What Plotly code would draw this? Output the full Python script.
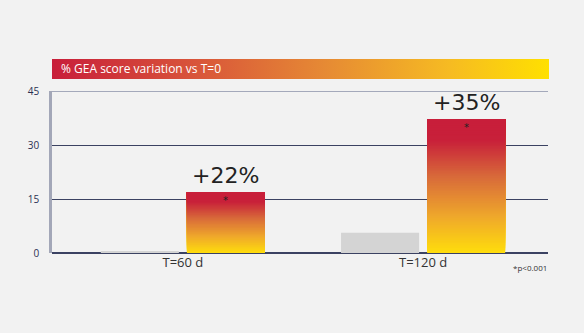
import base64
import plotly.graph_objects as go

categories = ["T=60 d", "T=120 d"]
baseline_values = [0.5, 5.6]
treated_values = [16.9, 37.2]
pct_labels = ["+22%", "+35%"]
y_ticks = [0, 15, 30, 45]
title_text = "% GEA score variation vs T=0"
footnote = "*p<0.001"

FONT = "Open Sans"
BIG_FONT = "DejaVu Sans"
BG = "#F2F2F2"
BAR_W = 0.325
GAP = 0.0167

bar_scale = [[0.0, "#FFDD0C"], [0.27, "#EFA82B"], [0.57, "#D86A3A"],
             [0.84, "#C8203A"], [1.0, "#C81E3A"]]


def hex2rgb(h):
    h = h.lstrip("#")
    return tuple(int(h[i:i + 2], 16) for i in (0, 2, 4))


def sample(scale, t):
    for (a, ca), (b, cb) in zip(scale[:-1], scale[1:]):
        if a <= t <= b:
            f = 0 if b == a else (t - a) / (b - a)
            r1, g1, b1 = hex2rgb(ca)
            r2, g2, b2 = hex2rgb(cb)
            return "rgb(%d,%d,%d)" % (round(r1 + (r2 - r1) * f), round(g1 + (g2 - g1) * f), round(b1 + (b2 - b1) * f))
    return scale[-1][1]


fig = go.Figure()

fig.add_trace(go.Bar(
    x=categories, y=baseline_values, width=BAR_W, offset=-BAR_W - GAP,
    marker=dict(color="#D4D4D4", line=dict(width=0)), hoverinfo="skip", showlegend=False))

N = 80
for i in range(N):
    frac = i / N
    bases = [v * frac for v in treated_values]
    heights = [v - b for v, b in zip(treated_values, bases)]
    fig.add_trace(go.Bar(
        x=categories, y=heights, base=bases, width=BAR_W, offset=GAP,
        marker=dict(color=sample(bar_scale, (i + 0.5) / N), line=dict(width=0)),
        hoverinfo="skip", showlegend=False))

annotations = []
center_off = GAP + BAR_W / 2
for idx, (v, lab) in enumerate(zip(treated_values, pct_labels)):
    annotations.append(dict(x=idx + center_off, y=v, xref="x", yref="y", text=lab,
                            showarrow=False, yanchor="bottom", yshift=2,
                            font=dict(family=BIG_FONT, size=22, color="#222222")))
    annotations.append(dict(x=idx + center_off, y=v, xref="x", yref="y", text="*",
                            showarrow=False, yanchor="middle", yshift=-8,
                            font=dict(family=BIG_FONT, size=10, color="#222222")))

annotations.append(dict(x=0.014, y=1.136, xref="paper", yref="paper", text=title_text,
                        showarrow=False, xanchor="left", yanchor="middle",
                        font=dict(family=FONT, size=12, color="#FFFFFF")))
annotations.append(dict(x=0.925, y=-0.088, xref="paper", yref="paper", text=footnote,
                        showarrow=False, xanchor="left", yanchor="middle",
                        font=dict(family=FONT, size=8, color="#333333")))

svg = ('<svg xmlns="http://www.w3.org/2000/svg" width="500" height="20" preserveAspectRatio="none">'
       '<defs><linearGradient id="g" x1="0" y1="0" x2="1" y2="0">'
       '<stop offset="0" stop-color="#C81E3A"/><stop offset="0.3" stop-color="#D9573A"/>'
       '<stop offset="0.55" stop-color="#E68A34"/><stop offset="0.8" stop-color="#F6BB22"/>'
       '<stop offset="1" stop-color="#FFE000"/></linearGradient></defs>'
       '<rect width="500" height="20" fill="url(#g)"/></svg>')
svg_uri = "data:image/svg+xml;base64," + base64.b64encode(svg.encode()).decode()

fig.update_layout(
    width=584, height=333,
    margin=dict(l=52, r=36, t=91, b=80),
    paper_bgcolor=BG, plot_bgcolor=BG,
    barmode="overlay",
    font=dict(family=FONT),
    annotations=annotations,
    images=[dict(source=svg_uri, xref="paper", yref="paper", x=0, y=1.1975,
                 sizex=1.002, sizey=0.1235, sizing="stretch", xanchor="left",
                 yanchor="top", layer="below")],
    shapes=[dict(type="line", xref="paper", yref="y", x0=0, x1=1, y0=45, y1=45,
                 line=dict(color="#8A90A8", width=1.5), layer="above")],
    xaxis=dict(showgrid=False, showline=False, zeroline=False, ticks="",
               tickfont=dict(family=FONT, size=13, color="#333333"),
               range=[-0.545, 1.52]),
    yaxis=dict(range=[0, 45], tickvals=y_ticks, showgrid=True, gridcolor="#3B4262",
               gridwidth=1, zeroline=True, zerolinecolor="#3B4262", zerolinewidth=1.5,
               showline=True, linecolor="#A3A7B8", linewidth=2.5, ticks="",
               ticklabelstandoff=8,
               tickfont=dict(family=FONT, size=10, color="#2B3052")),
)

fig.write_html("out.html")
